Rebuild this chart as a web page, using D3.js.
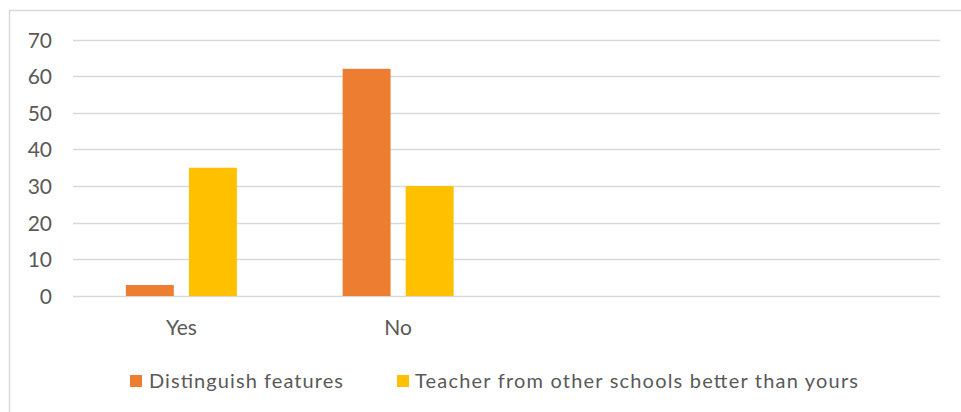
<!DOCTYPE html>
<html><head><meta charset="utf-8">
<script src="https://cdn.jsdelivr.net/npm/d3@7"></script>
<style>body{margin:0;background:#fff;} svg{display:block;font-family:Lato,"Open Sans",sans-serif;}</style>
</head><body>
<svg id="c" width="961" height="412"></svg>
<script>
const categories = ["Yes", "No", "", " "];
const seriesNames = ["Distinguish features", "Teacher from other schools better than yours"];
const distinguish = [3, 62, null, null];
const teacher = [35, 30, null, null];
const yTicks = [0, 10, 20, 30, 40, 50, 60, 70];
const colors = ["#ED7D31", "#FFC000"];

const svg = d3.select("#c");
svg.append("rect").attr("x", 9.5).attr("y", 10.5).attr("width", 960).attr("height", 420)
  .attr("fill", "#fff").attr("stroke", "#d9d9d9").attr("stroke-width", 1.5);

const x = d3.scaleBand().domain(categories).range([73, 940]);
const y = d3.scaleLinear().domain([0, 70]).range([296, 39.5]);

// gridlines
svg.append("g").selectAll("line").data(yTicks).join("line")
  .attr("x1", 73).attr("x2", 940)
  .attr("y1", d => Math.round(y(d)) + 0.5).attr("y2", d => Math.round(y(d)) + 0.5)
  .attr("stroke", "#d9d9d9").attr("stroke-width", 1.5);

// y axis labels
const yAxis = d3.axisLeft(y).tickValues(yTicks).tickSize(0).tickPadding(0);
const gy = svg.append("g").attr("transform", "translate(52,0)").call(yAxis);
gy.select(".domain").remove();
gy.attr("font-size", null).attr("font-family", null);
gy.selectAll("text").attr("fill", "#595959").style("font-size", "21px").style("font-family", "Lato, sans-serif").attr("dy", "0.36em");

// x axis labels
const xAxis = d3.axisBottom(x).tickSize(0).tickPadding(0);
const gx = svg.append("g").attr("transform", "translate(0,335)").call(xAxis);
gx.select(".domain").remove();
gx.attr("font-size", null).attr("font-family", null);
gx.selectAll("text").attr("fill", "#595959").style("font-size", "21px").style("font-family", "Lato, sans-serif").attr("dy", 0).attr("y", 0);

// bars
const x1 = d3.scaleBand().domain([0, 1]).range([0, 111]).paddingInner(0.24);
const series = [distinguish, teacher];
series.forEach((vals, si) => {
  svg.append("g").selectAll("rect")
    .data(categories.map((c, i) => ({c, v: vals[i]})).filter(d => d.v != null))
    .join("rect")
    .attr("x", d => x(d.c) + x.bandwidth() / 2 - 55.5 + x1(si))
    .attr("width", x1.bandwidth())
    .attr("y", d => y(d.v))
    .attr("height", d => y(0) - y(d.v))
    .attr("fill", colors[si]);
});

// legend
const legendPos = [{sx: 130, tx: 149, w: 194}, {sx: 397, tx: 415, w: 443}];
seriesNames.forEach((n, i) => {
  svg.append("rect").attr("x", legendPos[i].sx).attr("y", 375).attr("width", 12).attr("height", 12).attr("fill", colors[i]);
  svg.append("text").attr("x", legendPos[i].tx).attr("y", 388).text(n)
    .attr("textLength", legendPos[i].w).attr("lengthAdjust", "spacing")
    .attr("fill", "#595959").style("font-size", "20px").style("font-family", "Lato, sans-serif");
});
</script>
</body></html>
